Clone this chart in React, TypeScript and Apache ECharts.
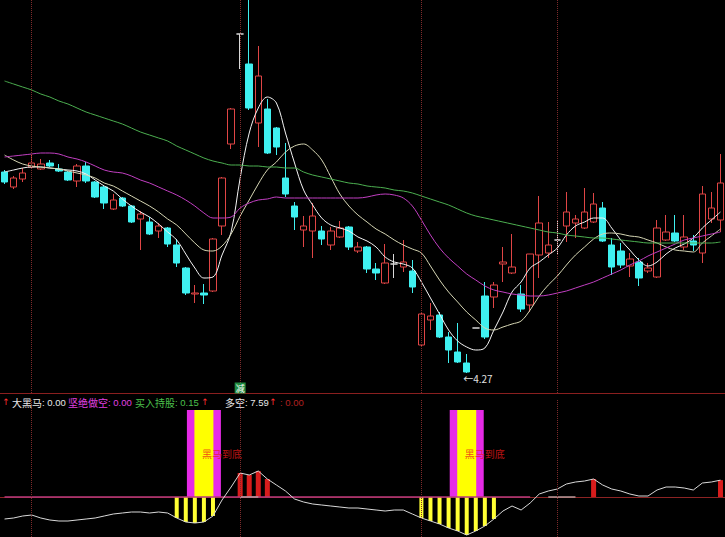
import React, { useEffect, useRef } from "react";
import * as echarts from "echarts";

// ---------- data ----------
const categories: string[] = Array.from({ length: 80 }, (_, i) => `D${i + 1}`);

// [open, close, low, high]
const ohlc: number[][] = [
  [6.28, 6.18, 6.16, 6.3], [6.13, 6.22, 6.11, 6.24], [6.21, 6.27, 6.18, 6.32], [6.33, 6.37, 6.32, 6.46],
  [6.31, 6.36, 6.3, 6.41], [6.37, 6.34, 6.33, 6.4], [6.31, 6.29, 6.28, 6.36], [6.28, 6.2, 6.19, 6.29],
  [6.19, 6.34, 6.13, 6.36], [6.34, 6.19, 6.17, 6.38], [6.18, 6.03, 6.02, 6.19], [6.13, 5.97, 5.91, 6.14],
  [5.91, 6.0, 5.9, 6.06], [6.02, 5.94, 5.93, 6.03], [5.94, 5.78, 5.77, 5.95], [5.81, 5.86, 5.5, 5.89],
  [5.78, 5.66, 5.65, 5.83], [5.69, 5.74, 5.62, 5.77], [5.72, 5.56, 5.53, 5.73], [5.55, 5.37, 5.33, 5.61],
  [5.32, 5.07, 5.05, 5.33], [5.06, 5.07, 4.97, 5.15], [5.07, 5.05, 4.96, 5.16], [5.09, 5.61, 5.08, 5.62],
  [5.74, 6.22, 5.65, 6.23], [6.56, 6.91, 6.51, 6.92], [7.66, 7.66, 7.31, 7.66], [7.36, 6.92, 6.9, 8.1],
  [6.77, 7.24, 6.53, 7.54], [6.91, 6.47, 6.46, 7.01], [6.72, 6.53, 6.45, 6.73], [6.22, 6.06, 6.03, 6.57],
  [5.94, 5.83, 5.7, 5.98], [5.7, 5.74, 5.53, 5.84], [5.69, 5.84, 5.42, 5.97], [5.69, 5.61, 5.55, 5.74],
  [5.55, 5.69, 5.5, 5.73], [5.63, 5.72, 5.62, 5.79], [5.73, 5.53, 5.5, 5.74], [5.49, 5.53, 5.47, 5.58],
  [5.53, 5.31, 5.27, 5.54], [5.31, 5.27, 5.2, 5.37], [5.17, 5.37, 5.16, 5.56], [5.36, 5.36, 5.22, 5.46],
  [5.33, 5.38, 5.28, 5.6], [5.29, 5.13, 5.07, 5.4], [4.55, 4.86, 4.54, 4.87], [4.8, 4.84, 4.7, 4.97],
  [4.85, 4.63, 4.62, 4.88], [4.63, 4.5, 4.37, 4.68], [4.48, 4.38, 4.37, 4.77], [4.37, 4.28, 4.27, 4.46],
  [4.72, 4.72, 4.72, 4.72], [5.04, 4.63, 4.61, 5.18], [5.03, 5.15, 4.92, 5.18], [5.36, 5.38, 5.18, 5.53],
  [5.27, 5.33, 5.26, 5.66], [5.06, 4.91, 4.88, 5.15], [4.95, 5.46, 4.88, 5.46], [5.45, 5.77, 5.22, 6.04],
  [5.47, 5.55, 5.42, 5.78], [5.6, 5.6, 5.46, 5.79], [5.74, 5.88, 5.58, 6.08], [5.77, 5.81, 5.62, 5.85],
  [5.72, 5.88, 5.71, 6.12], [5.78, 5.96, 5.77, 6.07], [5.92, 5.59, 5.58, 5.98], [5.55, 5.33, 5.25, 5.62],
  [5.49, 5.35, 5.32, 5.57], [5.34, 5.41, 5.23, 5.47], [5.38, 5.22, 5.14, 5.42], [5.29, 5.32, 5.27, 5.37],
  [5.23, 5.72, 5.22, 5.8], [5.6, 5.68, 5.59, 5.85], [5.67, 5.59, 5.58, 5.85], [5.53, 5.63, 5.5, 5.85],
  [5.59, 5.55, 5.49, 5.65], [5.47, 6.06, 5.37, 6.14], [5.81, 5.92, 5.77, 6.08], [5.8, 6.17, 5.68, 6.46],
];

const ma5: number[] = [
  6.28, 6.3, 6.32, 6.33, 6.33, 6.32, 6.31, 6.3, 6.29, 6.26,
  6.2, 6.14, 6.09, 6.01, 5.94, 5.88, 5.83, 5.76, 5.68, 5.6,
  5.46, 5.32, 5.22, 5.23, 5.45, 5.68, 6.22, 6.67, 6.92, 7.03,
  6.97, 6.67, 6.37, 6.1, 5.95, 5.82, 5.75, 5.72, 5.69, 5.63,
  5.59, 5.53, 5.43, 5.38, 5.36, 5.32, 5.18, 5.02, 4.86, 4.7,
  4.59, 4.53, 4.5, 4.52, 4.7, 4.88, 5.08, 5.18, 5.32, 5.38,
  5.45, 5.52, 5.65, 5.74, 5.78, 5.82, 5.82, 5.72, 5.6, 5.5,
  5.4, 5.34, 5.38, 5.46, 5.52, 5.56, 5.62, 5.72, 5.8, 5.88,
];

const ma10: number[] = [
  6.45, 6.4, 6.36, 6.34, 6.33, 6.32, 6.31, 6.29, 6.27, 6.25,
  6.22, 6.17, 6.14, 6.09, 6.04, 5.99, 5.94, 5.88, 5.81, 5.75,
  5.66, 5.57, 5.5, 5.49, 5.54, 5.66, 5.84, 6.0, 6.16, 6.3,
  6.38, 6.48, 6.54, 6.56, 6.5, 6.4, 6.23, 6.06, 5.94, 5.85,
  5.78, 5.71, 5.66, 5.6, 5.55, 5.51, 5.47, 5.34, 5.2, 5.08,
  4.98, 4.88, 4.8, 4.72, 4.7, 4.73, 4.76, 4.79, 4.9, 5.04,
  5.15, 5.24, 5.35, 5.45, 5.53, 5.61, 5.66, 5.67, 5.66, 5.64,
  5.63, 5.6, 5.57, 5.53, 5.5, 5.49, 5.48, 5.57, 5.64, 5.71,
];

const ma30: number[] = [
  6.43, 6.44, 6.45, 6.46, 6.47, 6.47, 6.46, 6.43, 6.41, 6.38,
  6.34, 6.3, 6.28, 6.27, 6.24, 6.2, 6.17, 6.13, 6.09, 6.05,
  6.0, 5.94, 5.87, 5.82, 5.82, 5.83, 5.92, 5.97, 6.0, 6.01,
  6.03, 6.02, 6.02, 6.02, 6.02, 6.02, 6.02, 6.02, 6.02, 6.02,
  6.03, 6.05, 6.06, 6.05, 6.02, 5.94, 5.8, 5.65, 5.52, 5.42,
  5.34, 5.26, 5.2, 5.14, 5.1, 5.08, 5.06, 5.05, 5.04, 5.04,
  5.05, 5.07, 5.09, 5.12, 5.15, 5.18, 5.22, 5.26, 5.3, 5.35,
  5.39, 5.44, 5.48, 5.52, 5.56, 5.6, 5.62, 5.64, 5.66, 5.68,
];

const ma60: number[] = [
  7.19, 7.16, 7.13, 7.1, 7.06, 7.03, 6.99, 6.96, 6.92, 6.88,
  6.85, 6.82, 6.79, 6.76, 6.72, 6.68, 6.65, 6.62, 6.59, 6.54,
  6.5, 6.46, 6.42, 6.39, 6.37, 6.35, 6.35, 6.34, 6.34, 6.33,
  6.33, 6.32, 6.32, 6.28, 6.25, 6.23, 6.21, 6.19, 6.17, 6.16,
  6.14, 6.13, 6.12, 6.1, 6.09, 6.07, 6.04, 6.01, 5.98, 5.95,
  5.91, 5.87, 5.84, 5.82, 5.8, 5.78, 5.76, 5.74, 5.72, 5.7,
  5.68, 5.67, 5.65, 5.64, 5.63, 5.62, 5.62, 5.61, 5.6, 5.59,
  5.58, 5.57, 5.57, 5.57, 5.57, 5.57, 5.57, 5.57, 5.57, 5.58,
];

// lower indicator ("多空")
const duokong: number[] = [
  -9.9, -9.45, -8.55, -8.1, -9.45, -10.35, -10.8, -10.8, -10.35, -9.9,
  -9.45, -8.55, -7.65, -7.2, -6.75, -6.75, -7.2, -6.75, -7.2, -9.45,
  -11.25, -11.7, -11.25, -8.55, -1.35, 4.5, 10.8, 9.9, 11.7, 8.1,
  5.4, 2.7, -0.9, -2.25, -3.15, -3.6, -4.05, -4.5, -4.95, -4.95,
  -5.4, -5.85, -6.3, -5.85, -5.85, -7.65, -9.45, -10.8, -12.15, -13.95,
  -15.3, -17.1, -15.3, -13.05, -9.9, -6.3, -4.05, -5.85, -2.7, 1.35,
  2.7, 3.6, 5.85, 6.75, 7.2, 8.1, 5.4, 3.6, 2.7, 1.35,
  0.45, 0.45, 3.15, 4.5, 4.5, 4.05, 3.15, 6.3, 6.75, 7.59,
];

const bottomIdx: number[] = [19, 20, 21, 22, 23, 46, 47, 48, 49, 50, 51, 52, 53, 54];
const redIdx: number[] = [26, 27, 28, 29, 65, 79];
const signalIdx: number[] = [22, 51];
const signalHeight = 39.15;
const greyIdx: number[] = [26, 27, 28, 60, 61, 62, 63];
const pinkEnd = 58;
const monthIdx: number[] = [3, 26, 46, 61];

const legendNames = ["大黑马", "坚绝做空", "买入持股", "多空"];
const legendValues = [0.0, 0.0, 0.15, duokong[duokong.length - 1]];

const lowIdx = 51;
const jianIdx = 26;

// ---------- helpers ----------
const pick = (idx: number[], vals: (i: number) => number) =>
  categories.map((_, i) => (idx.includes(i) ? vals(i) : null));

const RED = "#e04545";
const CYAN = "#3ff0f0";
const FONT = '"Noto Sans CJK SC", "Noto Sans", sans-serif';

export default function App() {
  const ref = useRef<HTMLDivElement>(null);

  useEffect(() => {
    document.body.style.margin = "0";
    document.body.style.background = "#000";
    const chart = echarts.init(ref.current!, null, { renderer: "svg" });

    const monthLines = {
      silent: true,
      symbol: ["none", "none"],
      label: { show: false },
      lineStyle: { type: "dotted", color: "#7d2b2b", width: 1 },
      data: monthIdx.map((i) => ({ xAxis: categories[i] })),
    };

    const hiddenX = (gridIndex: number) => ({
      type: "category",
      gridIndex,
      data: categories,
      show: false,
    });

    const legendText = (name: string, value: number, x: number, color: string) => ({
      type: "text",
      x,
      y: 402,
      silent: true,
      style: {
        text: `{a|${name}}{b|: ${value.toFixed(2)}}`,
        fill: color,
        verticalAlign: "middle",
        rich: {
          a: { fontSize: 10, fontFamily: FONT, fill: color },
          b: { fontSize: 9.5, fontFamily: '"Liberation Sans", sans-serif', fill: color },
        },
      },
    });
    const arrow = (x: number) => ({
      type: "text",
      x,
      y: 402,
      silent: true,
      style: {
        text: "↑",
        fill: "#ff3030",
        fontSize: 9,
        fontFamily: '"DejaVu Sans", sans-serif',
        align: "center",
        verticalAlign: "middle",
      },
    });

    const option: any = {
      animation: false,
      backgroundColor: "#000",
      grid: [
        { left: -1, top: 0, width: 726, height: 393 },
        { left: -1, top: 400, width: 726, height: 137 },
      ],
      xAxis: [
        {
          type: "category",
          gridIndex: 0,
          data: categories,
          axisLine: { show: true, onZero: false, lineStyle: { color: "#8a1f1f" } },
          axisTick: { show: false },
          axisLabel: { show: false },
          splitLine: { show: false },
        },
        {
          type: "category",
          gridIndex: 1,
          data: categories,
          axisLine: { show: true, onZero: true, lineStyle: { color: "#8c2323" } },
          axisTick: { show: false },
          axisLabel: { show: false },
          splitLine: { show: false },
        },
        hiddenX(1),
        hiddenX(1),
        hiddenX(1),
        hiddenX(1),
      ],
      yAxis: [
        { type: "value", gridIndex: 0, min: 4.07, max: 8.0, show: false },
        { type: "value", gridIndex: 1, min: -18, max: 43.65, show: false },
      ],
      series: [
        {
          type: "candlestick",
          xAxisIndex: 0,
          yAxisIndex: 0,
          data: ohlc,
          barWidth: 7,
          clip: true,
          itemStyle: {
            color: "#000",
            color0: CYAN,
            borderColor: RED,
            borderColor0: CYAN,
            borderColorDoji: "#d8d8d8",
            borderWidth: 1,
          },
          markLine: monthLines,
          markPoint: {
            silent: true,
            data: [
              {
                coord: [categories[lowIdx], ohlc[lowIdx][2]],
                symbol: "circle",
                symbolSize: 1,
                itemStyle: { color: "rgba(0,0,0,0)" },
                label: {
                  show: true,
                  formatter: "←" + ohlc[lowIdx][2].toFixed(2),
                  position: "right",
                  offset: [-9, 5],
                  color: "#e0e0e0",
                  fontSize: 10,
                  fontFamily: FONT,
                },
              },
              {
                coord: [categories[jianIdx], 4.12],
                symbol: "rect",
                symbolSize: [11, 11],
                itemStyle: { color: "#1f8a3f" },
                label: {
                  show: true,
                  formatter: "减",
                  position: "inside",
                  color: "#fff",
                  fontSize: 9,
                  fontFamily: FONT,
                },
              },
            ],
          },
        },
        ...[
          { d: ma5, c: "#f4f4f4" },
          { d: ma10, c: "#d6d6b4" },
          { d: ma30, c: "#c23fc2" },
          { d: ma60, c: "#4caf50" },
        ].map((m) => ({
          type: "line",
          xAxisIndex: 0,
          yAxisIndex: 0,
          data: m.d,
          symbol: "none",
          smooth: 0.35,
          lineStyle: { color: m.c, width: 1 },
          silent: true,
        })),
        // lower pane
        {
          type: "bar",
          xAxisIndex: 2,
          yAxisIndex: 1,
          barWidth: 34,
          data: pick(signalIdx, () => signalHeight),
          itemStyle: { color: "#e62ae6" },
          silent: true,
        },
        {
          type: "bar",
          xAxisIndex: 3,
          yAxisIndex: 1,
          barWidth: 19,
          data: pick(signalIdx, () => signalHeight),
          itemStyle: { color: "#ffff00" },
          label: {
            show: true,
            position: "inside",
            formatter: "黑马到底",
            offset: [18, 0],
            color: "rgba(235,25,25,0.8)",
            fontSize: 10,
            fontFamily: FONT,
          },
          silent: true,
        },
        {
          type: "bar",
          xAxisIndex: 4,
          yAxisIndex: 1,
          barWidth: 4,
          data: pick(bottomIdx, (i) => duokong[i]),
          itemStyle: { color: "#ffff33" },
          silent: true,
        },
        {
          type: "bar",
          xAxisIndex: 5,
          yAxisIndex: 1,
          barWidth: 5,
          data: pick(redIdx, (i) => duokong[i]),
          itemStyle: { color: "#d81c1c" },
          silent: true,
        },
        {
          type: "line",
          xAxisIndex: 1,
          yAxisIndex: 1,
          data: categories.map((_, i) => (i <= pinkEnd ? 0 : null)),
          symbol: "none",
          lineStyle: { color: "#b83a7c", width: 1.5 },
          silent: true,
        },
        {
          type: "line",
          xAxisIndex: 1,
          yAxisIndex: 1,
          data: pick(greyIdx, () => 0),
          symbol: "none",
          connectNulls: false,
          lineStyle: { color: "#b89a9a", width: 1.5 },
          silent: true,
        },
        {
          type: "line",
          xAxisIndex: 1,
          yAxisIndex: 1,
          data: duokong,
          symbol: "none",
          lineStyle: { color: "#d8d8d8", width: 1 },
          markLine: monthLines,
          silent: true,
        },
      ],
      graphic: {
        elements: [
          arrow(6),
          legendText(legendNames[0], legendValues[0], 12, "#e8e8e8"),
          legendText(legendNames[1], legendValues[1], 68, "#e040e0"),
          legendText(legendNames[2], legendValues[2], 135, "#4cc04c"),
          arrow(205),
          legendText(legendNames[3], legendValues[3], 225, "#e8e8e8"),
          arrow(273),
          {
            type: "text",
            x: 280,
            y: 402,
            silent: true,
            style: {
              text: ": 0.00",
              fill: "#b02020",
              fontSize: 9.5,
              fontFamily: '"Liberation Sans", sans-serif',
              verticalAlign: "middle",
            },
          },
        ],
      },
    };

    chart.setOption(option);
    return () => chart.dispose();
  }, []);

  return (
    <div
      ref={ref}
      style={{ position: "fixed", left: 0, top: 0, width: 725, height: 537, background: "#000" }}
    />
  );
}
